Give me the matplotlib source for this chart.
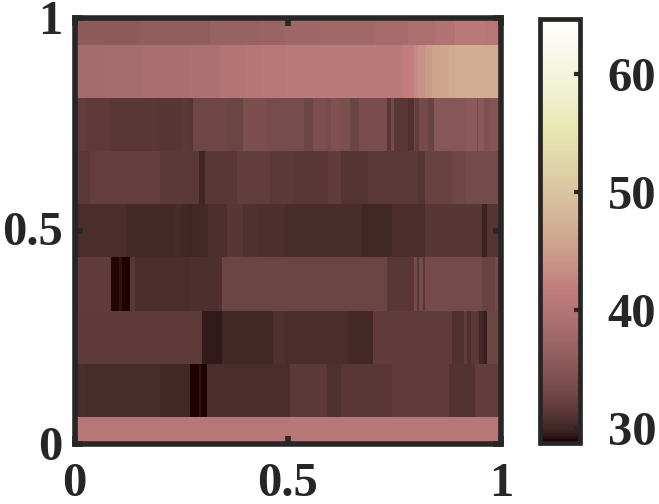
import matplotlib
matplotlib.use('Agg')
import matplotlib.pyplot as plt
from matplotlib.transforms import ScaledTranslation
import numpy as np

# one row of the map per y position as (inner edges, values)
row_y = [0, 0.125, 0.25, 0.375, 0.5, 0.625, 0.75, 0.875, 1]

edges_00 = []
vals_00 = [40.7]
edges_01 = [.025, .201, .271, .291, .296, .310, .505, .591, .626, .744, .877, .939]
vals_01 = [30.6, 30.4, 30.2, 28.85, 29.3, 28.85, 30.5, 31.5, 30.9, 31.4, 31.8, 31.0, 32.0]
edges_02 = [.298, .345, .466, .494, .642, .701, .885, .913, .920, .929, .949, .960, .967]
vals_02 = [31.7, 29.5, 30.2, 30.9, 30.5, 30.3, 31.8, 30.9, 32, 30.8, 31.6, 30.2, 29.6, 32.6]
edges_03 = [.085, .105, .112, .130, .142, .271, .345, .732, .795, .802, .808, .816, .822, .955, .986]
vals_03 = [31.8, 29, 29.3, 28.85, 31.4, 30.6, 30.7, 32.6, 31.4, 33.4, 31.4, 33.4, 31.4, 33.4, 32.5, 33.4]
edges_04 = [.122, .236, .249, .266, .275, .294, .314, .357, .396, .431, .494, .673, .744, .822, .955, .967]
vals_04 = [30.6, 30.3, 30.4, 30.2, 30.0, 30.1, 30.3, 30.7, 31.2, 30.8, 30.7, 30.4, 30.2, 30.6, 31.2, 29.8, 31.1]
edges_05 = [.036, .201, .291, .306, .380, .459, .513, .595, .626, .689, .802, .822, .885, .916]
vals_05 = [31.6, 32.1, 31.6, 30, 31.4, 31.9, 31.6, 31.4, 31.8, 31.1, 31.6, 31.1, 32.4, 33.0, 33.3]
edges_06 = [.029, .083, .193, .251, .267, .279, .357, .396, .451, .537, .560, .591, .601, .623, .646, .666,
            .732, .742, .750, .783, .795, .799, .808, .830, .842, .916, .943, .947, .959, .971]
vals_06 = [31.9, 31.7, 31.4, 31.2, 31.5, 31.2, 33, 32.7, 34.0, 33.6, 32.8, 34.0, 33.7, 34.3, 34.0, 32.6,
           33.8, 31.4, 33.4, 31.4, 30.9, 33, 31.9, 33.4, 32.5, 35.0, 35.4, 33.4, 35.4, 34.3, 34.7]
edges_07 = [.068, .160, .271, .341, .400, .440, .494, .767, .795, .806, .822, .838, .857, .877, .892]
vals_07 = [38.3, 38.5, 38.8, 39.2, 39.9, 40.4, 40.8, 41.1, 41.8, 43, 44, 45, 45.8, 46.3, 46.6, 46.9]
edges_08 = [.154, .318, .435, .494, .576, .705, .782, .845, .892, .963]
vals_08 = [35.8, 36.0, 36.7, 37.2, 37.5, 37.9, 38.3, 38.9, 39.8, 40.9, 40.7]

all_edges = [edges_00, edges_01, edges_02, edges_03, edges_04, edges_05, edges_06, edges_07, edges_08]
all_vals = [vals_00, vals_01, vals_02, vals_03, vals_04, vals_05, vals_06, vals_07, vals_08]

vmin = 28.8
vmax = 64.7
ink = '#262626'

plt.rcParams['font.family'] = ['Liberation Serif', 'DejaVu Serif']
plt.rcParams['font.weight'] = 'bold'

W, H = 659, 504
fig = plt.figure(figsize=(W / 100, H / 100), dpi=100)
ax = fig.add_axes([74.5 / W, 1 - 443.5 / H, 426.5 / W, 425.5 / H])
half = 0.0625
for y, e, v in zip(row_y, all_edges, all_vals):
    xs = np.array([0] + e + [1])
    m = ax.pcolormesh(xs, [y - half, y + half], np.array([v]), cmap='pink', vmin=vmin, vmax=vmax, linewidth=0)
ax.set_xlim(0, 1)
ax.set_ylim(0, 1)
ax.set_xticks([0, 0.5, 1])
ax.set_xticklabels(['0', '0.5', '1'])
ax.set_yticks([0, 0.5, 1])
ax.set_yticklabels(['0', '0.5', '1'])
ax.tick_params(direction='in', top=True, right=True, length=5.5, width=4, color=ink,
               labelcolor=ink, labelsize=35)
ax.tick_params(axis='x', pad=13.5)
ax.tick_params(axis='y', pad=8.5)
for s in ax.spines.values():
    s.set_linewidth(4)
    s.set_color(ink)

# the upper two y labels sit a little higher in the original
for lab, dy in zip(ax.get_yticklabels()[1:], [2, 1]):
    lab.set_transform(lab.get_transform() + ScaledTranslation(0, dy / 72, fig.dpi_scale_trans))

cax = fig.add_axes([539.5 / W, 1 - 442.5 / H, 40.5 / W, 423.5 / H])
cb = fig.colorbar(m, cax=cax)
cb.set_ticks([30, 40, 50, 60])
cb.ax.tick_params(direction='in', length=4.5, width=3, color=ink, labelcolor=ink, labelsize=35, pad=20)
cb.outline.set_linewidth(3.4)
cb.outline.set_edgecolor(ink)

fig.savefig('out.png', dpi=100)
